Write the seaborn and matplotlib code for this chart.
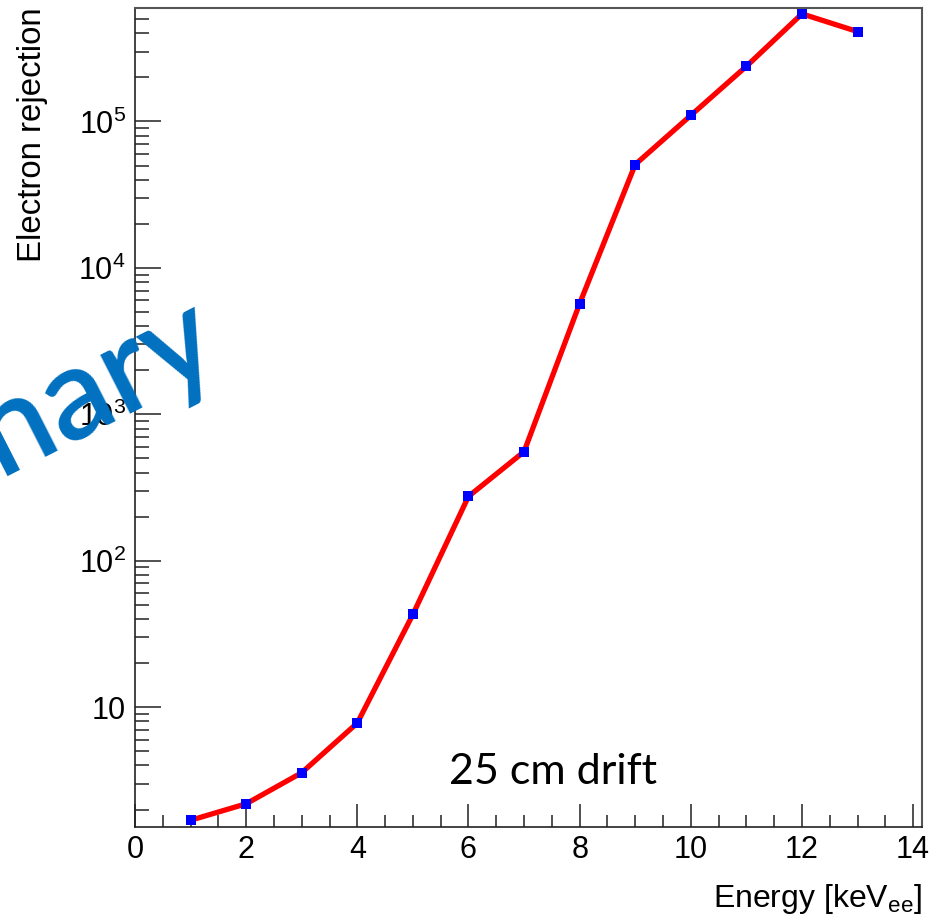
import matplotlib
matplotlib.use("Agg")
import matplotlib.pyplot as plt
import matplotlib.ticker as mticker
import numpy as np
import pandas as pd
import seaborn as sns

# Rejection factor versus energy for 25 cm drift
energy = [1, 2, 3, 4, 5, 6, 7, 8, 9, 10, 11, 12, 13]
rejection = [1.69, 2.19, 3.57, 7.8, 43, 275, 556, 5700, 50800,
             110000, 238000, 543000, 411000]

x_ticks = [0, 2, 4, 6, 8, 10, 12, 14]
y_ticks = [10, 100, 1000, 10000, 100000]
y_tick_labels = ["10", r"$\mathregular{10^{2}}$", r"$\mathregular{10^{3}}$",
                 r"$\mathregular{10^{4}}$", r"$\mathregular{10^{5}}$"]

df = pd.DataFrame({"energy": energy, "rejection": rejection})

sns.set_theme(style="white")
plt.rcParams["font.family"] = ["Liberation Sans", "DejaVu Sans"]
plt.rcParams["mathtext.fontset"] = "custom"
plt.rcParams["mathtext.rm"] = "Liberation Sans"

W, H = 937, 923
fig = plt.figure(figsize=(W / 100, H / 100), dpi=100)
ax = fig.add_axes([135 / W, 1 - 827 / H, (922 - 135) / W, (827 - 7.5) / H])

sns.lineplot(data=df, x="energy", y="rejection", ax=ax, color="#ff0000",
             lw=3.8, zorder=2)
sns.scatterplot(data=df, x="energy", y="rejection", ax=ax, marker="s",
                color="#0000ff", s=42, linewidth=0, zorder=3)

ax.set_yscale("log")
ax.set_xlim(0, 14.16)
ax.set_ylim(1.52, 6.0e5)

ax.set_xticks(x_ticks)
ax.set_xticklabels([str(t) for t in x_ticks])
ax.xaxis.set_minor_locator(mticker.MultipleLocator(0.5))
ax.set_yticks(y_ticks)
ax.set_yticklabels(y_tick_labels)
ax.yaxis.set_minor_locator(mticker.LogLocator(base=10, subs=np.arange(2, 10), numticks=20))
ax.yaxis.set_minor_formatter(mticker.NullFormatter())

ax.tick_params(axis="both", which="both", direction="in", color="#222222",
               width=1.1, labelsize=22, labelcolor="black",
               bottom=True, left=True, top=False, right=False)
ax.tick_params(axis="y", which="major", length=18.5, pad=6.5)
ax.tick_params(axis="y", which="minor", length=10)
ax.tick_params(axis="x", which="major", length=16.5, pad=6)
ax.tick_params(axis="x", which="minor", length=8.6)

for side in ["left", "bottom"]:
    ax.spines[side].set_color("#222222")
    ax.spines[side].set_linewidth(1.2)
for side in ["top", "right"]:
    ax.spines[side].set_color("#555555")
    ax.spines[side].set_linewidth(1.5)
ax.grid(False)

ax.set_xlabel("")
ax.set_ylabel("")
fig.text(922 / W, 1 - 907 / H, r"Energy [keV$_{\mathregular{ee}}$]",
         ha="right", va="baseline", fontsize=23, color="black")
fig.text(33 / W, 1 - 7 / H, "Electron rejection", rotation=90,
         ha="center", va="top", fontsize=23.8, color="black")

ax.text(7.52, 2.98, "25 cm drift", ha="center", va="baseline",
        fontsize=31, family=["Lato", "DejaVu Sans"], color="black")

fig.text(224 / W, 1 - 360 / H, "Preliminary", rotation=27,
         rotation_mode="anchor", ha="right", va="baseline",
         fontsize=93, fontweight="semibold",
         family=["Lato", "DejaVu Sans"], color="#0070C0", zorder=10)

fig.savefig("out.png", dpi=100)
